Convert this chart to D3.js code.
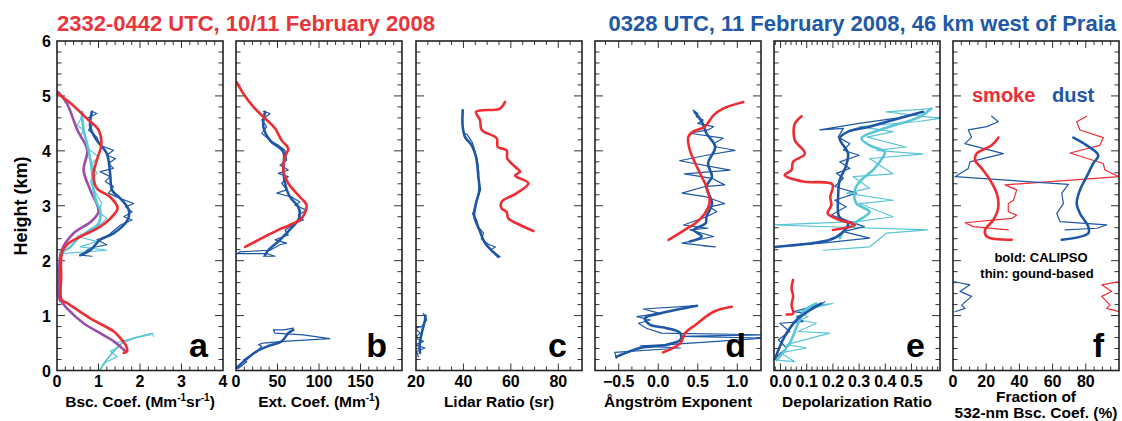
<!DOCTYPE html>
<html><head><meta charset="utf-8">
<script src="https://cdn.jsdelivr.net/npm/d3@7"></script>
<style>
body{margin:0;background:#fff}
text{font-family:"Liberation Sans",Arial,sans-serif;font-weight:bold}
</style>
</head><body>
<svg id="chart" width="1122" height="421"></svg>
<script>
// ---------------- DATA (value, height km) ----------------
const titleLeft = "2332-0442 UTC, 10/11 February 2008";
const titleRight = "0328 UTC, 11 February 2008, 46 km west of Praia";
const heightTicks = [0,1,2,3,4,5,6];

// panel a : backscatter coefficient
const aTicks = [0,1,2,3,4];
const aRed = [[0.03,5.04],[0.32,4.87],[0.76,4.56],[1.0,4.38],[1.07,4.13],[0.96,3.83],[0.88,3.59],[0.96,3.32],[1.28,3.16],[1.46,2.96],[1.3,2.78],[1.0,2.6],[0.6,2.45],[0.25,2.3],[0.12,2.15],[0.1,1.7],[0.11,1.29],[0.24,1.23],[0.8,0.95],[1.37,0.71],[1.49,0.62],[1.65,0.47],[1.69,0.35],[1.61,0.32]];
const aPurple = [[0.03,5.07],[0.24,4.86],[0.49,4.38],[0.73,4.01],[0.64,3.65],[0.8,3.29],[1.0,2.89],[0.8,2.7],[0.4,2.5],[0.11,2.19],[0.06,1.96],[0.07,1.28],[0.11,1.25],[0.24,1.13],[0.64,0.86],[1.04,0.68],[1.37,0.53],[1.65,0.35]];
const aCyanThick = [[0.6,4.71],[0.62,4.5],[0.64,4.38],[0.7,4.2],[0.76,4.01],[0.84,3.65],[0.88,3.29],[0.96,3.05],[1.04,2.92],[1.0,2.68],[0.8,2.56],[0.5,2.4],[0.32,2.25],[0.07,2.14]];
const aCyanThin = [[0.62,4.72],[0.56,4.56],[0.48,4.47],[0.64,4.38],[0.56,4.25],[0.68,4.13],[0.8,4.01],[1.0,3.89],[0.84,3.77],[0.96,3.59],[0.8,3.44],[0.92,3.25],[1.08,3.04],[1.0,2.89],[1.2,2.77],[1.08,2.68],[0.8,2.53],[0.48,2.44],[0.96,2.35],[0.56,2.25],[1.2,2.19],[0.12,2.13],[0.13,2.1]];
const aCyanLowThick = [[1.04,0.02],[1.2,0.2],[1.4,0.38],[1.6,0.52],[1.9,0.6],[2.25,0.66]];
const aCyanLowThin = [[1.04,0.0],[1.12,0.13],[1.45,0.25],[1.28,0.35],[1.53,0.44],[1.41,0.5],[1.69,0.56],[2.01,0.62],[2.3,0.68],[2.33,0.62]];
const aBlueThick = [[0.84,4.71],[0.8,4.44],[0.96,4.19],[1.2,3.95],[1.28,3.59],[1.33,3.28],[1.53,3.13],[1.73,2.92],[1.7,2.74],[1.37,2.5],[1.04,2.38],[0.8,2.19],[0.56,2.1]];
const aBlueThin = [[0.84,4.72],[0.96,4.68],[0.72,4.59],[0.88,4.5],[0.76,4.38],[0.96,4.25],[1.04,4.1],[1.36,4.01],[1.2,3.92],[1.41,3.86],[1.24,3.77],[1.36,3.68],[1.04,3.62],[1.28,3.53],[1.16,3.44],[1.36,3.35],[1.24,3.23],[1.53,3.13],[1.85,3.04],[1.65,2.98],[1.81,2.89],[1.61,2.8],[1.81,2.74],[1.53,2.65],[1.2,2.44],[0.96,2.38],[1.2,2.29],[0.8,2.23],[0.56,2.1],[0.84,2.08]];

// panel b : extinction coefficient
const bTicks = [0,50,100,150];
const bRed = [[0.8,5.25],[9,5.04],[21,4.8],[33,4.62],[47,4.41],[55,4.19],[63,4.04],[59,3.89],[57,3.65],[63,3.41],[77,3.16],[85,3.01],[79,2.77],[65,2.65],[51,2.56],[30,2.4],[11,2.25]];
const bBlueThick = [[35,4.71],[33,4.44],[41,4.19],[57,3.98],[57,3.65],[59,3.41],[65,3.16],[75,2.98],[77,2.86],[75,2.74],[67,2.6],[61,2.5],[51,2.35],[39,2.19],[35,2.1]];
const bBlueThin = [[33,4.72],[41,4.68],[31,4.56],[37,4.44],[31,4.32],[41,4.19],[51,4.1],[59,4.01],[61,3.83],[53,3.74],[63,3.65],[51,3.59],[63,3.53],[55,3.41],[61,3.29],[49,3.23],[67,3.16],[77,3.07],[71,3.01],[85,2.92],[75,2.83],[81,2.74],[71,2.68],[59,2.56],[63,2.47],[47,2.38],[61,2.32],[53,2.29],[41,2.19],[5,2.16],[1,2.13],[37,2.13],[47,2.08],[33,2.08]];
const bBlueLowThick = [[1,0.05],[12,0.2],[25,0.35],[40,0.45],[55,0.53],[63,0.68],[69,0.74]];
const bBlueLowThin = [[3,0.04],[13,0.16],[9,0.19],[25,0.35],[31,0.44],[27,0.47],[33,0.5],[57,0.53],[113,0.58],[81,0.65],[47,0.68],[45,0.74],[57,0.74],[69,0.77]];

// panel c : lidar ratio
const cTicks = [20,40,60,80];
const cRed = [[57.5,4.89],[55.4,4.77],[45.3,4.71],[47,4.56],[47.7,4.38],[54,4.23],[54.5,4.07],[58.2,4.01],[58.5,3.86],[61.8,3.71],[63.9,3.62],[61.8,3.55],[67.4,3.41],[62.5,3.23],[56.1,3.07],[56.1,2.95],[58.2,2.89],[58.9,2.77],[63.9,2.65],[69.5,2.54]];
const cBlueThick = [[39.7,4.74],[39.7,4.44],[40.7,4.25],[43.5,4.1],[45.3,3.89],[46.3,3.53],[46.7,3.29],[45.3,3.04],[44.5,2.83],[45,2.74],[47,2.53],[49.1,2.32],[54.7,2.07]];
const cBlueThin = [[39.7,4.74],[39.5,4.5],[40.2,4.32],[41.5,4.3],[43.8,4.15],[44.5,4.05],[45.8,3.85],[46.5,3.6],[46.0,3.55],[47.3,3.3],[46.5,3.2],[45.2,3.05],[44.3,2.9],[43.8,2.85],[45.5,2.75],[46.5,2.6],[48.5,2.5],[47.5,2.4],[50.5,2.3],[53.5,2.25],[51.5,2.2],[55.5,2.07]];
const cBlueLowThick = [[21.7,0.32],[21.5,0.45],[22.4,0.68],[23.8,0.92],[24,1.0]];
const cBlueLowThin = [[21,0.25],[20.3,0.35],[23.8,0.41],[19.6,0.47],[23.1,0.53],[19.6,0.59],[21.7,0.68],[19.6,0.77],[22.4,0.8],[24.5,0.92],[23.1,1.04]];

// panel d : Angstrom exponent
const dTicks = [-0.5,0.0,0.5,1.0];
const dRed = [[1.076,4.89],[0.82,4.77],[0.70,4.65],[0.59,4.44],[0.44,4.35],[0.38,4.25],[0.40,4.01],[0.47,3.77],[0.55,3.53],[0.61,3.35],[0.65,3.07],[0.59,2.86],[0.47,2.68],[0.38,2.6],[0.13,2.38]];
const dRedLow = [[0.06,0.33],[0.28,0.5],[0.34,0.68],[0.47,0.83],[0.70,1.07],[0.93,1.16]];
const dBlueThick = [[0.46,4.71],[0.55,4.53],[0.61,4.32],[0.72,4.07],[0.63,3.77],[0.68,3.53],[0.61,3.35],[0.68,3.04],[0.61,2.8],[0.6,2.68],[0.45,2.56],[0.55,2.44],[0.4,2.35]];
const dBlueThin = [[0.44,4.74],[0.5,4.68],[0.48,4.62],[0.57,4.56],[0.5,4.5],[0.7,4.44],[0.63,4.38],[0.4,4.32],[0.82,4.23],[0.7,4.13],[0.74,4.07],[0.97,4.01],[0.61,3.92],[0.27,3.82],[0.91,3.65],[0.33,3.58],[0.68,3.5],[0.84,3.38],[0.59,3.35],[0.3,3.23],[0.61,3.16],[0.84,3.04],[0.65,2.98],[0.74,2.89],[0.61,2.8],[0.32,2.65],[0.63,2.59],[0.4,2.56],[0.7,2.44],[0.3,2.32],[0.72,2.25],[0.57,2.27]];
const dBlueLowThick = [[-0.53,0.25],[-0.23,0.41],[0.11,0.47],[0.28,0.56],[0.28,0.68],[0.11,0.77],[-0.1,0.83],[-0.17,0.95],[0.02,1.04],[0.49,1.18]];
const dBlueLowThin = [[-0.53,0.22],[-0.55,0.33],[0.28,0.41],[-0.23,0.45],[0.13,0.47],[1.35,0.59],[0.28,0.62],[1.35,0.65],[0.04,0.68],[-0.15,0.77],[-0.25,0.86],[-0.1,0.92],[-0.27,0.98],[0.02,1.04],[-0.19,1.12],[0.49,1.18]];

// panel e : depolarization ratio
const eTicks = [0.0,0.1,0.2,0.3,0.4,0.5];
const eRed = [[0.08,4.63],[0.055,4.5],[0.05,4.38],[0.055,4.19],[0.093,3.95],[0.048,3.8],[0.042,3.65],[0.016,3.56],[0.086,3.44],[0.198,3.39],[0.19,3.16],[0.194,3.01],[0.18,2.86],[0.226,2.74],[0.284,2.65],[0.2,2.56]];
const eRedLow = [[0.048,1.65],[0.042,1.5],[0.048,1.35],[0.042,1.19],[0.048,1.04],[0.023,1.02]];
const eBlueThick = [[0.544,4.71],[0.43,4.56],[0.34,4.44],[0.258,4.35],[0.226,4.23],[0.258,3.95],[0.249,3.71],[0.226,3.47],[0.22,3.16],[0.224,2.8],[0.258,2.68],[0.233,2.5],[0.188,2.38],[-0.022,2.25]];
const eBlueThin = [[0.544,4.71],[0.45,4.6],[0.3,4.5],[0.15,4.38],[0.24,4.41],[0.22,4.25],[0.265,4.13],[0.24,4.01],[0.3,3.92],[0.226,3.8],[0.265,3.68],[0.213,3.59],[0.24,3.5],[0.207,3.35],[0.29,3.23],[0.207,3.1],[0.25,2.98],[0.194,2.83],[0.32,2.62],[0.24,2.53],[0.34,2.41],[0.156,2.32],[-0.02,2.25]];
const eCyanThick = [[0.576,4.77],[0.532,4.62],[0.379,4.38],[0.309,4.23],[0.34,4.1],[0.398,3.98],[0.379,3.8],[0.353,3.65],[0.309,3.47],[0.284,3.29],[0.29,3.04],[0.34,2.89],[0.29,2.71],[0.24,2.53],[0.226,2.41]];
const eCyanThin = [[0.576,4.77],[0.404,4.71],[0.61,4.59],[0.52,4.53],[0.30,4.44],[0.43,4.35],[0.33,4.25],[0.48,4.07],[0.366,4.01],[0.544,3.94],[0.34,3.86],[0.43,3.58],[0.277,3.53],[0.34,3.32],[0.252,3.23],[0.43,3.1],[0.30,3.04],[0.43,2.8],[0.29,2.71],[-0.028,2.65],[0.562,2.56],[0.404,2.5],[0.34,2.25],[0.163,2.19]];
const eBlueLowThick = [[-0.02,0.23],[0.016,0.62],[0.061,0.92],[0.112,1.1],[0.156,1.22]];
const eBlueLowThin = [[-0.02,0.23],[0.023,0.41],[-0.009,0.56],[0.035,0.71],[-0.003,0.86],[0.086,0.89],[0.061,0.98],[0.099,1.04],[0.048,1.07],[0.156,1.21],[0.169,1.25]];
const eCyanLowThick = [[-0.015,0.19],[0.035,0.5],[0.067,0.86],[0.093,1.1],[0.137,1.22]];
const eCyanLowThin = [[-0.015,0.19],[0.055,0.16],[0.0,0.32],[0.099,0.41],[0.023,0.47],[0.188,0.68],[0.067,0.71],[0.137,0.86],[0.074,0.92],[0.105,0.98],[0.067,1.07],[0.2,1.22],[0.143,1.19]];

// panel f : fraction of 532-nm backscatter
const fTicks = [0,20,40,60,80];
const fSmokeCal = [[27.3,4.24],[23.3,4.1],[14.3,3.95],[13.3,3.83],[17.3,3.68],[22.3,3.47],[26.3,3.23],[27.3,2.98],[24.3,2.74],[19.3,2.56],[20.3,2.44],[35.4,2.38]];
const fDustCal = [[72.5,4.24],[80.5,4.1],[87.5,3.92],[84.5,3.77],[80.5,3.53],[76.5,3.29],[74.5,3.04],[76.5,2.86],[81.5,2.62],[81.5,2.5],[65.5,2.38]];
const fSmokeGb = [[80.5,4.63],[74.5,4.53],[76.5,4.38],[90.5,4.24],[88.5,4.1],[70.5,3.96],[90.5,3.77],[91.5,3.65],[100,3.53],[31.3,3.38],[38.4,3.29],[36.4,3.1],[33.3,3.04],[33.3,2.89],[38.4,2.83],[35.4,2.77],[7.2,2.69],[12.2,2.62],[33.3,2.56]];
const fDustGb = [[23.3,4.63],[27.3,4.53],[20.3,4.44],[9.2,4.38],[11.2,4.25],[7.2,4.13],[30.3,3.95],[10.2,3.8],[9.2,3.68],[1.2,3.53],[69.5,3.39],[65.5,3.23],[66.5,3.04],[62.5,2.86],[64.5,2.71],[92.6,2.65],[86.6,2.59],[67.5,2.56]];
const fDustGbLow = [[0.2,1.62],[10.2,1.56],[4.2,1.44],[11.2,1.35],[5.2,1.19],[7.2,1.13],[1.2,1.07]];
const fSmokeGbLow = [[100,1.62],[89.6,1.56],[95.6,1.44],[89.6,1.35],[94.6,1.19],[92.6,1.13],[100,1.07]];

// ---------------- DRAWING ----------------
const RED="#ee2d33", BLUE="#1f57a7", CYAN="#58c6d6", PURPLE="#9a4ea8";
const svg=d3.select("#chart");
const yTop=41, yBot=370.5, pw=166;
const y=d3.scaleLinear().domain([0,6]).range([yBot,yTop]);

svg.append("text").attr("x",57).attr("y",31).attr("fill","#e8353b").attr("font-size",22).text(titleLeft);
svg.append("text").attr("x",1116).attr("y",31).attr("text-anchor","end").attr("fill","#2158a8").attr("font-size",22).text(titleRight);

svg.append("text").attr("transform","translate(27,206) rotate(-90)").attr("text-anchor","middle").attr("font-size",18).text("Height (km)");

const TK=1.2, TH=2.6;
const panels=[
 {left:57,dom:[0,4],ticks:aTicks,minor:0.2,fmt:d=>d3.format("d")(d),letter:"a",
  title:[["Bsc. Coef. (Mm",""],["-1","sup"],["sr",""],["-1","sup"],[")",""]],
  series:[[aBlueThin,BLUE,TK],[aCyanThin,CYAN,TK],[aCyanLowThin,CYAN,TK],[aCyanLowThick,CYAN,1.8],[aPurple,PURPLE,TH],[aBlueThick,BLUE,TH],[aCyanThick,CYAN,TH],[aRed,RED,TH]]},
 {left:236,dom:[0,200],ticks:bTicks,minor:10,fmt:d=>String(d),letter:"b",
  title:[["Ext. Coef. (Mm",""],["-1","sup"],[")",""]],
  series:[[bBlueThin,BLUE,TK],[bBlueLowThin,BLUE,TK],[bBlueThick,BLUE,TH],[bBlueLowThick,BLUE,TH],[bRed,RED,TH]]},
 {left:416,dom:[20,90],ticks:cTicks,minor:5,fmt:d=>String(d),letter:"c",
  title:[["Lidar Ratio (sr)",""]],
  series:[[cBlueThin,BLUE,TK],[cBlueLowThin,BLUE,TK],[cBlueThick,BLUE,TH],[cBlueLowThick,BLUE,TH],[cRed,RED,TH]]},
 {left:595,dom:[-0.8,1.3],ticks:dTicks,minor:0.5/3,fmt:d3.format(".1f"),letter:"d",
  title:[["Ångström Exponent",""]],
  series:[[dBlueThin,BLUE,TK],[dBlueLowThin,BLUE,TK],[dBlueThick,BLUE,TH],[dBlueLowThick,BLUE,TH],[dRed,RED,TH],[dRedLow,RED,TH]]},
 {left:774,dom:[-0.025,0.609],ticks:eTicks,minor:0.02,fmt:d3.format(".1f"),letter:"e",
  title:[["Depolarization Ratio",""]],
  series:[[eCyanThin,CYAN,TK],[eBlueThin,BLUE,TK],[eCyanLowThin,CYAN,TK],[eBlueLowThin,BLUE,TK],[eCyanThick,CYAN,TH],[eBlueThick,BLUE,TH],[eCyanLowThick,CYAN,TH],[eBlueLowThick,BLUE,TH],[eRed,RED,TH],[eRedLow,RED,TH]]},
 {left:953,dom:[0,100],ticks:fTicks,minor:5,fmt:d=>String(d),letter:"f",
  title:null,
  series:[[fSmokeGb,RED,TK],[fDustGb,BLUE,TK],[fDustGbLow,BLUE,TK],[fSmokeGbLow,RED,TK],[fSmokeCal,RED,TH],[fDustCal,BLUE,TH]]}
];

const minorH=d3.range(0,6.0001,0.2);
panels.forEach((p,i)=>{
  const x=d3.scaleLinear().domain(p.dom).range([p.left,p.left+pw]);
  const g=svg.append("g");
  const clipId="clip"+i;
  svg.append("clipPath").attr("id",clipId).append("rect").attr("x",p.left).attr("y",yTop).attr("width",pw).attr("height",yBot-yTop);
  const step=p.minor;
  const start=Math.ceil((p.dom[0]-1e-9)/step)*step;
  const minorX=d3.range(start,p.dom[1]+1e-9,step).filter(v=>v>p.dom[0]+1e-6&&v<p.dom[1]-1e-6);
  const tk=g.append("g").attr("stroke","#333").attr("stroke-width",1);
  minorX.forEach(v=>{
    const isMaj=p.ticks.some(t=>Math.abs(t-v)<1e-6);
    const L=isMaj?7:4;
    tk.append("line").attr("x1",x(v)).attr("x2",x(v)).attr("y1",yTop).attr("y2",yTop+L);
    tk.append("line").attr("x1",x(v)).attr("x2",x(v)).attr("y1",yBot).attr("y2",yBot-L);
  });
  minorH.forEach(h=>{
    if(h<1e-6||h>6-1e-6) return;
    const isMaj=Math.abs(h-Math.round(h))<1e-6;
    const L=isMaj?8:4.5;
    tk.append("line").attr("x1",p.left).attr("x2",p.left+L).attr("y1",y(h)).attr("y2",y(h));
    tk.append("line").attr("x1",p.left+pw).attr("x2",p.left+pw-L).attr("y1",y(h)).attr("y2",y(h));
  });
  const lg=g.append("g").attr("clip-path",`url(#${clipId})`);
  const line=d3.line().x(d=>x(d[0])).y(d=>y(d[1]));
  p.series.forEach(([data,col,w])=>{
    lg.append("path").datum(data).attr("d",line.curve(w>2?d3.curveCatmullRom.alpha(0.5):d3.curveLinear))
      .attr("fill","none").attr("stroke",col).attr("stroke-width",w).attr("stroke-linejoin","round").attr("stroke-linecap","round");
  });
  g.append("rect").attr("x",p.left).attr("y",yTop).attr("width",pw).attr("height",yBot-yTop)
    .attr("fill","none").attr("stroke","#222").attr("stroke-width",1.6);
  p.ticks.forEach(t=>{
    g.append("text").attr("x",x(t)).attr("y",387).attr("text-anchor","middle").attr("font-size",16).text(p.fmt(t));
  });
  if(i===0){
    heightTicks.forEach(h=>{
      g.append("text").attr("x",51).attr("y",y(h)+6).attr("text-anchor","end").attr("font-size",16).text(h);
    });
  }
  g.append("text").attr("x",p.left+pw-15).attr("y",357).attr("text-anchor","end").attr("font-size",34).text(p.letter);
  if(p.title){
    const t=g.append("text").attr("x",p.left+pw/2).attr("y",407).attr("text-anchor","middle").attr("font-size",15.5);
    p.title.forEach(([s,k])=>{
      const ts=t.append("tspan").text(s);
      if(k==="sup") ts.attr("font-size",10).attr("dy",-6);
      else if(t.selectAll("tspan").size()>1) ts.attr("dy",6);
    });
  }
});
svg.append("text").attr("x",1036).attr("y",402).attr("text-anchor","middle").attr("font-size",15.5).text("Fraction of");
svg.append("text").attr("x",1036).attr("y",418).attr("text-anchor","middle").attr("font-size",15.5).text("532-nm Bsc. Coef. (%)");
svg.append("text").attr("x",972).attr("y",102).attr("fill",RED).attr("font-size",20).text("smoke");
svg.append("text").attr("x",1052).attr("y",102).attr("fill",BLUE).attr("font-size",20).text("dust");
svg.append("text").attr("x",1041).attr("y",262).attr("text-anchor","middle").attr("font-size",13).text("bold: CALIPSO");
svg.append("text").attr("x",1037).attr("y",278).attr("text-anchor","middle").attr("font-size",13).text("thin: gound-based");
</script>
</body></html>
